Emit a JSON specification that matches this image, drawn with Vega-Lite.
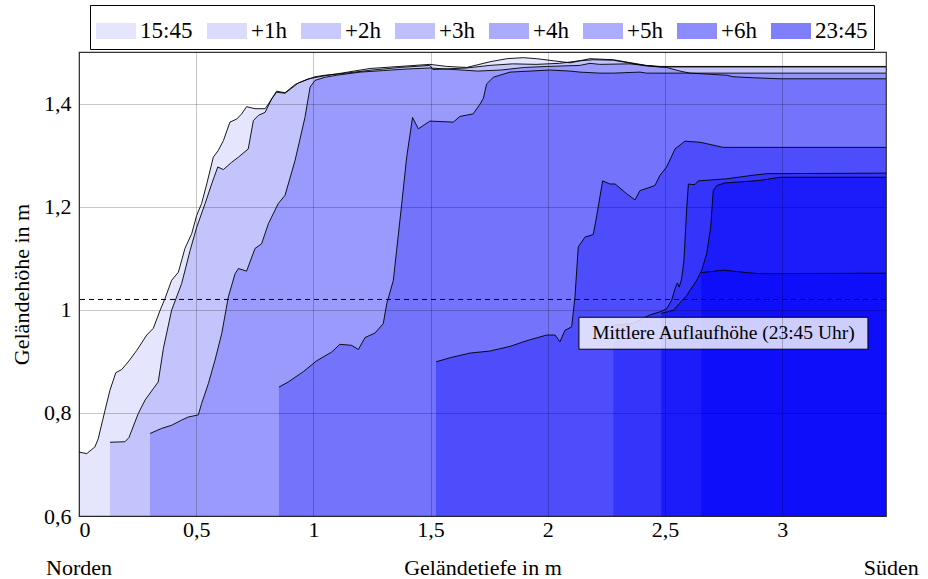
{
  "$schema": "https://vega.github.io/schema/vega-lite/v6.json",
  "width": 807,
  "height": 464,
  "autosize": {"type": "none"},
  "padding": {"left": 79, "top": 52, "right": 42, "bottom": 63},
  "config": {
    "font": "Liberation Serif",
    "view": {"stroke": "#333333", "strokeWidth": 1.2},
    "axis": {"labelFont": "Liberation Serif", "titleFont": "Liberation Serif", "labelColor": "black", "titleColor": "black", "titleFontWeight": "normal"}
  },
  "datasets": {
    "profiles": [
      {"s": "15:45", "x": 0, "y": 0.724}, {"s": "15:45", "x": 0.033, "y": 0.721}, {"s": "15:45", "x": 0.068, "y": 0.734}, {"s": "15:45", "x": 0.082, "y": 0.75}, {"s": "15:45", "x": 0.111, "y": 0.805}, {"s": "15:45", "x": 0.132, "y": 0.844}, {"s": "15:45", "x": 0.157, "y": 0.878}, {"s": "15:45", "x": 0.182, "y": 0.884}, {"s": "15:45", "x": 0.21, "y": 0.899}, {"s": "15:45", "x": 0.246, "y": 0.921}, {"s": "15:45", "x": 0.289, "y": 0.951}, {"s": "15:45", "x": 0.317, "y": 0.964}, {"s": "15:45", "x": 0.346, "y": 0.999}, {"s": "15:45", "x": 0.367, "y": 1.022}, {"s": "15:45", "x": 0.395, "y": 1.057}, {"s": "15:45", "x": 0.424, "y": 1.073}, {"s": "15:45", "x": 0.452, "y": 1.119}, {"s": "15:45", "x": 0.481, "y": 1.148}, {"s": "15:45", "x": 0.502, "y": 1.183}, {"s": "15:45", "x": 0.523, "y": 1.206}, {"s": "15:45", "x": 0.545, "y": 1.244}, {"s": "15:45", "x": 0.573, "y": 1.296}, {"s": "15:45", "x": 0.594, "y": 1.309}, {"s": "15:45", "x": 0.616, "y": 1.328}, {"s": "15:45", "x": 0.644, "y": 1.364}, {"s": "15:45", "x": 0.673, "y": 1.37}, {"s": "15:45", "x": 0.694, "y": 1.38}, {"s": "15:45", "x": 0.715, "y": 1.394}, {"s": "15:45", "x": 0.751, "y": 1.39}, {"s": "15:45", "x": 0.794, "y": 1.39}, {"s": "15:45", "x": 0.808, "y": 1.399}, {"s": "15:45", "x": 0.843, "y": 1.424}, {"s": "15:45", "x": 0.879, "y": 1.421}, {"s": "15:45", "x": 0.922, "y": 1.437}, {"s": "15:45", "x": 0.978, "y": 1.448}, {"s": "15:45", "x": 1.05, "y": 1.454}, {"s": "15:45", "x": 1.12, "y": 1.459}, {"s": "15:45", "x": 1.241, "y": 1.468}, {"s": "15:45", "x": 1.369, "y": 1.472}, {"s": "15:45", "x": 1.497, "y": 1.476}, {"s": "15:45", "x": 1.569, "y": 1.472}, {"s": "15:45", "x": 1.654, "y": 1.47}, {"s": "15:45", "x": 1.753, "y": 1.481}, {"s": "15:45", "x": 1.825, "y": 1.487}, {"s": "15:45", "x": 1.896, "y": 1.489}, {"s": "15:45", "x": 1.953, "y": 1.487}, {"s": "15:45", "x": 2.024, "y": 1.483}, {"s": "15:45", "x": 2.095, "y": 1.479}, {"s": "15:45", "x": 2.18, "y": 1.487}, {"s": "15:45", "x": 2.28, "y": 1.485}, {"s": "15:45", "x": 2.42, "y": 1.474}, {"s": "15:45", "x": 2.48, "y": 1.472}, {"s": "15:45", "x": 3.443, "y": 1.472},
      {"s": "+1h", "x": 0.132, "y": 0.743}, {"s": "+1h", "x": 0.196, "y": 0.744}, {"s": "+1h", "x": 0.213, "y": 0.752}, {"s": "+1h", "x": 0.253, "y": 0.799}, {"s": "+1h", "x": 0.282, "y": 0.825}, {"s": "+1h", "x": 0.317, "y": 0.847}, {"s": "+1h", "x": 0.338, "y": 0.86}, {"s": "+1h", "x": 0.36, "y": 0.925}, {"s": "+1h", "x": 0.395, "y": 0.999}, {"s": "+1h", "x": 0.438, "y": 1.051}, {"s": "+1h", "x": 0.474, "y": 1.115}, {"s": "+1h", "x": 0.502, "y": 1.16}, {"s": "+1h", "x": 0.538, "y": 1.206}, {"s": "+1h", "x": 0.566, "y": 1.244}, {"s": "+1h", "x": 0.592, "y": 1.277}, {"s": "+1h", "x": 0.616, "y": 1.272}, {"s": "+1h", "x": 0.651, "y": 1.286}, {"s": "+1h", "x": 0.68, "y": 1.296}, {"s": "+1h", "x": 0.722, "y": 1.312}, {"s": "+1h", "x": 0.744, "y": 1.367}, {"s": "+1h", "x": 0.765, "y": 1.377}, {"s": "+1h", "x": 0.794, "y": 1.383}, {"s": "+1h", "x": 0.822, "y": 1.409}, {"s": "+1h", "x": 0.843, "y": 1.422}, {"s": "+1h", "x": 0.879, "y": 1.42}, {"s": "+1h", "x": 0.936, "y": 1.44}, {"s": "+1h", "x": 1.007, "y": 1.452}, {"s": "+1h", "x": 1.05, "y": 1.455}, {"s": "+1h", "x": 1.12, "y": 1.458}, {"s": "+1h", "x": 1.25, "y": 1.465}, {"s": "+1h", "x": 1.37, "y": 1.47}, {"s": "+1h", "x": 1.497, "y": 1.474}, {"s": "+1h", "x": 1.51, "y": 1.466}, {"s": "+1h", "x": 1.654, "y": 1.469}, {"s": "+1h", "x": 1.753, "y": 1.474}, {"s": "+1h", "x": 1.85, "y": 1.477}, {"s": "+1h", "x": 1.95, "y": 1.476}, {"s": "+1h", "x": 2.05, "y": 1.478}, {"s": "+1h", "x": 2.137, "y": 1.483}, {"s": "+1h", "x": 2.194, "y": 1.485}, {"s": "+1h", "x": 2.28, "y": 1.484}, {"s": "+1h", "x": 2.42, "y": 1.473}, {"s": "+1h", "x": 2.48, "y": 1.471}, {"s": "+1h", "x": 3.443, "y": 1.471},
      {"s": "+2h", "x": 0.303, "y": 0.76}, {"s": "+2h", "x": 0.353, "y": 0.77}, {"s": "+2h", "x": 0.395, "y": 0.776}, {"s": "+2h", "x": 0.438, "y": 0.786}, {"s": "+2h", "x": 0.466, "y": 0.792}, {"s": "+2h", "x": 0.509, "y": 0.796}, {"s": "+2h", "x": 0.523, "y": 0.818}, {"s": "+2h", "x": 0.552, "y": 0.857}, {"s": "+2h", "x": 0.58, "y": 0.902}, {"s": "+2h", "x": 0.609, "y": 0.954}, {"s": "+2h", "x": 0.637, "y": 1.025}, {"s": "+2h", "x": 0.666, "y": 1.07}, {"s": "+2h", "x": 0.68, "y": 1.08}, {"s": "+2h", "x": 0.715, "y": 1.075}, {"s": "+2h", "x": 0.751, "y": 1.119}, {"s": "+2h", "x": 0.779, "y": 1.128}, {"s": "+2h", "x": 0.808, "y": 1.167}, {"s": "+2h", "x": 0.85, "y": 1.206}, {"s": "+2h", "x": 0.879, "y": 1.222}, {"s": "+2h", "x": 0.922, "y": 1.29}, {"s": "+2h", "x": 0.964, "y": 1.373}, {"s": "+2h", "x": 0.986, "y": 1.432}, {"s": "+2h", "x": 1.007, "y": 1.445}, {"s": "+2h", "x": 1.05, "y": 1.451}, {"s": "+2h", "x": 1.1, "y": 1.455}, {"s": "+2h", "x": 1.2, "y": 1.461}, {"s": "+2h", "x": 1.3, "y": 1.464}, {"s": "+2h", "x": 1.4, "y": 1.467}, {"s": "+2h", "x": 1.497, "y": 1.469}, {"s": "+2h", "x": 1.6, "y": 1.466}, {"s": "+2h", "x": 1.7, "y": 1.463}, {"s": "+2h", "x": 1.8, "y": 1.465}, {"s": "+2h", "x": 1.9, "y": 1.47}, {"s": "+2h", "x": 2.0, "y": 1.472}, {"s": "+2h", "x": 2.137, "y": 1.474}, {"s": "+2h", "x": 2.18, "y": 1.478}, {"s": "+2h", "x": 2.222, "y": 1.476}, {"s": "+2h", "x": 2.35, "y": 1.477}, {"s": "+2h", "x": 2.436, "y": 1.473}, {"s": "+2h", "x": 2.507, "y": 1.47}, {"s": "+2h", "x": 2.564, "y": 1.463}, {"s": "+2h", "x": 2.607, "y": 1.459}, {"s": "+2h", "x": 2.763, "y": 1.455}, {"s": "+2h", "x": 2.791, "y": 1.452}, {"s": "+2h", "x": 2.877, "y": 1.45}, {"s": "+2h", "x": 2.991, "y": 1.448}, {"s": "+2h", "x": 3.443, "y": 1.448},
      {"s": "+3h", "x": 0.853, "y": 0.85}, {"s": "+3h", "x": 0.893, "y": 0.86}, {"s": "+3h", "x": 0.957, "y": 0.88}, {"s": "+3h", "x": 1.014, "y": 0.901}, {"s": "+3h", "x": 1.078, "y": 0.918}, {"s": "+3h", "x": 1.113, "y": 0.933}, {"s": "+3h", "x": 1.163, "y": 0.931}, {"s": "+3h", "x": 1.192, "y": 0.923}, {"s": "+3h", "x": 1.22, "y": 0.946}, {"s": "+3h", "x": 1.263, "y": 0.955}, {"s": "+3h", "x": 1.298, "y": 0.973}, {"s": "+3h", "x": 1.313, "y": 1.012}, {"s": "+3h", "x": 1.341, "y": 1.057}, {"s": "+3h", "x": 1.355, "y": 1.115}, {"s": "+3h", "x": 1.377, "y": 1.206}, {"s": "+3h", "x": 1.398, "y": 1.296}, {"s": "+3h", "x": 1.423, "y": 1.373}, {"s": "+3h", "x": 1.448, "y": 1.351}, {"s": "+3h", "x": 1.497, "y": 1.366}, {"s": "+3h", "x": 1.597, "y": 1.364}, {"s": "+3h", "x": 1.625, "y": 1.375}, {"s": "+3h", "x": 1.682, "y": 1.38}, {"s": "+3h", "x": 1.711, "y": 1.399}, {"s": "+3h", "x": 1.725, "y": 1.41}, {"s": "+3h", "x": 1.739, "y": 1.438}, {"s": "+3h", "x": 1.768, "y": 1.451}, {"s": "+3h", "x": 1.796, "y": 1.455}, {"s": "+3h", "x": 1.839, "y": 1.461}, {"s": "+3h", "x": 1.924, "y": 1.463}, {"s": "+3h", "x": 2.009, "y": 1.465}, {"s": "+3h", "x": 2.095, "y": 1.463}, {"s": "+3h", "x": 2.137, "y": 1.461}, {"s": "+3h", "x": 2.222, "y": 1.459}, {"s": "+3h", "x": 2.28, "y": 1.459}, {"s": "+3h", "x": 2.393, "y": 1.461}, {"s": "+3h", "x": 2.422, "y": 1.459}, {"s": "+3h", "x": 3.443, "y": 1.459},
      {"s": "+4h", "x": 1.523, "y": 0.899}, {"s": "+4h", "x": 1.583, "y": 0.907}, {"s": "+4h", "x": 1.668, "y": 0.916}, {"s": "+4h", "x": 1.753, "y": 0.92}, {"s": "+4h", "x": 1.839, "y": 0.929}, {"s": "+4h", "x": 1.91, "y": 0.94}, {"s": "+4h", "x": 1.995, "y": 0.951}, {"s": "+4h", "x": 2.031, "y": 0.951}, {"s": "+4h", "x": 2.052, "y": 0.938}, {"s": "+4h", "x": 2.073, "y": 0.96}, {"s": "+4h", "x": 2.102, "y": 0.967}, {"s": "+4h", "x": 2.116, "y": 1.025}, {"s": "+4h", "x": 2.13, "y": 1.122}, {"s": "+4h", "x": 2.159, "y": 1.141}, {"s": "+4h", "x": 2.194, "y": 1.146}, {"s": "+4h", "x": 2.208, "y": 1.18}, {"s": "+4h", "x": 2.234, "y": 1.25}, {"s": "+4h", "x": 2.265, "y": 1.244}, {"s": "+4h", "x": 2.287, "y": 1.244}, {"s": "+4h", "x": 2.337, "y": 1.225}, {"s": "+4h", "x": 2.372, "y": 1.213}, {"s": "+4h", "x": 2.393, "y": 1.231}, {"s": "+4h", "x": 2.457, "y": 1.241}, {"s": "+4h", "x": 2.479, "y": 1.261}, {"s": "+4h", "x": 2.507, "y": 1.277}, {"s": "+4h", "x": 2.543, "y": 1.312}, {"s": "+4h", "x": 2.585, "y": 1.327}, {"s": "+4h", "x": 2.649, "y": 1.325}, {"s": "+4h", "x": 2.749, "y": 1.315}, {"s": "+4h", "x": 3.443, "y": 1.315},
      {"s": "+5h", "x": 2.28, "y": 0.97}, {"s": "+5h", "x": 2.36, "y": 0.973}, {"s": "+5h", "x": 2.436, "y": 0.99}, {"s": "+5h", "x": 2.479, "y": 0.996}, {"s": "+5h", "x": 2.507, "y": 1.002}, {"s": "+5h", "x": 2.528, "y": 1.018}, {"s": "+5h", "x": 2.543, "y": 1.041}, {"s": "+5h", "x": 2.553, "y": 1.052}, {"s": "+5h", "x": 2.561, "y": 1.044}, {"s": "+5h", "x": 2.571, "y": 1.06}, {"s": "+5h", "x": 2.581, "y": 1.096}, {"s": "+5h", "x": 2.593, "y": 1.199}, {"s": "+5h", "x": 2.6, "y": 1.244}, {"s": "+5h", "x": 2.614, "y": 1.243}, {"s": "+5h", "x": 2.628, "y": 1.243}, {"s": "+5h", "x": 2.642, "y": 1.25}, {"s": "+5h", "x": 2.763, "y": 1.254}, {"s": "+5h", "x": 2.877, "y": 1.261}, {"s": "+5h", "x": 2.934, "y": 1.264}, {"s": "+5h", "x": 3.443, "y": 1.265},
      {"s": "+6h", "x": 2.484, "y": 0.993}, {"s": "+6h", "x": 2.536, "y": 0.999}, {"s": "+6h", "x": 2.593, "y": 1.028}, {"s": "+6h", "x": 2.635, "y": 1.057}, {"s": "+6h", "x": 2.657, "y": 1.077}, {"s": "+6h", "x": 2.678, "y": 1.109}, {"s": "+6h", "x": 2.695, "y": 1.16}, {"s": "+6h", "x": 2.706, "y": 1.231}, {"s": "+6h", "x": 2.721, "y": 1.241}, {"s": "+6h", "x": 2.756, "y": 1.246}, {"s": "+6h", "x": 2.82, "y": 1.248}, {"s": "+6h", "x": 2.905, "y": 1.251}, {"s": "+6h", "x": 2.991, "y": 1.257}, {"s": "+6h", "x": 3.443, "y": 1.257},
      {"s": "23:45", "x": 2.655, "y": 1.072}, {"s": "23:45", "x": 2.75, "y": 1.077}, {"s": "23:45", "x": 2.85, "y": 1.072}, {"s": "23:45", "x": 2.905, "y": 1.07}, {"s": "23:45", "x": 3.443, "y": 1.071}
    ],
    "notes": [
      {"x": 0, "y": 0.5, "label": "Norden"},
      {"x": 3.465, "y": 0.5, "label": "Süden"}
    ],
    "box": [
      {"x1": 2.133, "x2": 3.366, "y1": 0.9235, "y2": 0.9855, "xm": 2.7495, "ym": 0.9545, "label": "Mittlere Auflaufhöhe (23:45 Uhr)"}
    ],
    "mean": [{"h": 1.02}]
  },
  "layer": [
    {
      "data": {"name": "profiles"},
      "mark": {"type": "area", "line": false, "clip": true},
      "encoding": {
        "x": {
          "field": "x", "type": "quantitative",
          "scale": {"domain": [0, 3.443], "nice": false, "zero": false},
          "axis": {
            "values": [0, 0.5, 1, 1.5, 2, 2.5, 3],
            "labelExpr": "replace(format(datum.value, '.1~f'), '.', ',')",
            "title": "Geländetiefe in m",
            "labelFontSize": 22, "titleFontSize": 22,
            "labelPadding": 3, "titlePadding": 17,
            "domain": false, "ticks": false,
            "grid": true, "gridColor": "#000000", "gridOpacity": 0.22, "gridWidth": 1,
            "zindex": 1
          }
        },
        "y": {
          "field": "y", "type": "quantitative",
          "stack": null,
          "scale": {"domain": [0.6, 1.5], "nice": false, "zero": false},
          "axis": {
            "values": [0.6, 0.8, 1, 1.2, 1.4],
            "labelExpr": "replace(format(datum.value, '.1~f'), '.', ',')",
            "title": "Geländehöhe in m",
            "labelFontSize": 22, "titleFontSize": 22,
            "labelPadding": 8, "titlePadding": 10,
            "domain": false, "ticks": false,
            "grid": true, "gridColor": "#000000", "gridOpacity": 0.22, "gridWidth": 1,
            "zindex": 1
          }
        },
        "y2": {"datum": 0.6},
        "fill": {
          "field": "s", "type": "nominal",
          "sort": ["15:45", "+1h", "+2h", "+3h", "+4h", "+5h", "+6h", "23:45"],
          "scale": {
            "domain": ["15:45", "+1h", "+2h", "+3h", "+4h", "+5h", "+6h", "23:45"],
            "range": ["rgba(0,0,250,0.1)", "rgba(0,0,250,0.14)", "rgba(0,0,250,0.21)", "rgba(0,0,250,0.25)", "rgba(0,0,250,0.33)", "rgba(0,0,250,0.32)", "rgba(0,0,250,0.45)", "rgba(0,0,250,0.5)"]
          },
          "legend": {
            "title": null,
            "orient": "none",
            "legendX": 11,
            "legendY": -47,
            "direction": "horizontal",
            "columns": 8,
            "symbolType": "M-1,-0.4H1V0.4H-1Z",
            "symbolSize": 1600,
            "symbolStrokeWidth": 0,
            "labelFontSize": 23,
            "labelFont": "Liberation Serif",
            "labelColor": "black",
            "labelOffset": 4,
            "columnPadding": 14,
            "strokeColor": "black",
            "fillColor": "white",
            "padding": 6
          }
        }
      }
    },
    {
      "data": {"name": "profiles"},
      "mark": {"type": "line", "color": "black", "strokeWidth": 0.9},
      "encoding": {
        "x": {"field": "x", "type": "quantitative"},
        "y": {"field": "y", "type": "quantitative"},
        "detail": {"field": "s", "type": "nominal"},
        "order": {"field": "x", "type": "quantitative"}
      }
    },
    {
      "data": {"name": "mean"},
      "mark": {"type": "rule", "color": "black", "strokeWidth": 1, "strokeDash": [5, 4]},
      "encoding": {"y": {"field": "h", "type": "quantitative"}}
    },
    {
      "data": {"name": "box"},
      "mark": {"type": "rect", "fill": "white", "fillOpacity": 0.8, "stroke": "black", "strokeWidth": 1},
      "encoding": {
        "x": {"field": "x1", "type": "quantitative"},
        "x2": {"field": "x2"},
        "y": {"field": "y1", "type": "quantitative"},
        "y2": {"field": "y2"}
      }
    },
    {
      "data": {"name": "box"},
      "mark": {"type": "text", "font": "Liberation Serif", "fontSize": 19.5, "color": "black", "align": "center", "baseline": "middle"},
      "encoding": {
        "x": {"field": "xm", "type": "quantitative"},
        "y": {"field": "ym", "type": "quantitative"},
        "text": {"field": "label"}
      }
    },
    {
      "data": {"name": "notes"},
      "mark": {"type": "text", "font": "Liberation Serif", "fontSize": 22, "color": "black", "align": "center", "baseline": "middle"},
      "encoding": {
        "x": {"field": "x", "type": "quantitative"},
        "y": {"field": "y", "type": "quantitative"},
        "text": {"field": "label"}
      }
    }
  ]
}
